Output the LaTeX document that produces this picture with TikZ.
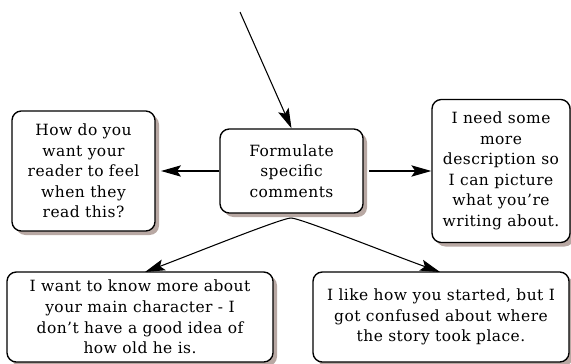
\documentclass[tikz,border=0pt]{standalone}
\usepackage{fontspec}
\setmainfont[LetterSpace=3]{DejaVu Serif}
\usetikzlibrary{arrows.meta,shadows}
\definecolor{shadowtone}{RGB}{184,168,163}
\begin{document}
\begin{tikzpicture}[x=0.75pt,y=-0.75pt,
  card/.style={draw=black, line width=1pt, rounded corners=7pt, fill=white,
    align=center, inner sep=0pt,
    font=\fontsize{11.6}{15.4}\selectfont,
    drop shadow={shadow xshift=3pt, shadow yshift=-3pt, fill=shadowtone, opacity=1}},
  link/.style={line width=0.8pt, -{Stealth[length=15pt,width=8.5pt,inset=3pt]}}]
  \useasboundingbox (0,0) rectangle (571,364);

  % central prompt and the four sample comments
  \node[card, minimum width=107.25pt, minimum height=63pt] (hub) at (291.5,171)
    {Formulate\\specific\\comments};
  \node[card, minimum width=107.25pt, minimum height=90pt] (feel) at (83.5,171)
    {How do you\\want your\\reader to feel\\when they\\read this?};
  \node[card, minimum width=103.5pt, minimum height=107.25pt] (descr) at (501,171)
    {I need some\\more\\description so\\I can picture\\what you're\\writing about.};
  \node[card, minimum width=199.5pt, minimum height=67.5pt] (char) at (140,317)
    {I want to know more about\\your main character - I\\don't have a good idea of\\how old he is.};
  \node[card, minimum width=192pt, minimum height=67.5pt] (place) at (441,317)
    {I like how you started, but I\\got confused about where\\the story took place.};

  % incoming connector and the branching point below the prompt
  \coordinate (entry) at (240,12);
  \coordinate (fork) at (291,218);
  \coordinate (charin) at (145,272);
  \coordinate (placein) at (440,272);

  \draw[link] (entry) -- (hub.north);
  \draw[link] (hub.west) -- ([xshift=4pt]feel.east);
  \draw[link] ([xshift=4pt]hub.east) -- (descr.west);
  \draw[link] (fork) .. controls (282,218) and (195,253) .. (charin);
  \draw[link] (fork) .. controls (300,218) and (390,254) .. (placein);
\end{tikzpicture}
\end{document}
